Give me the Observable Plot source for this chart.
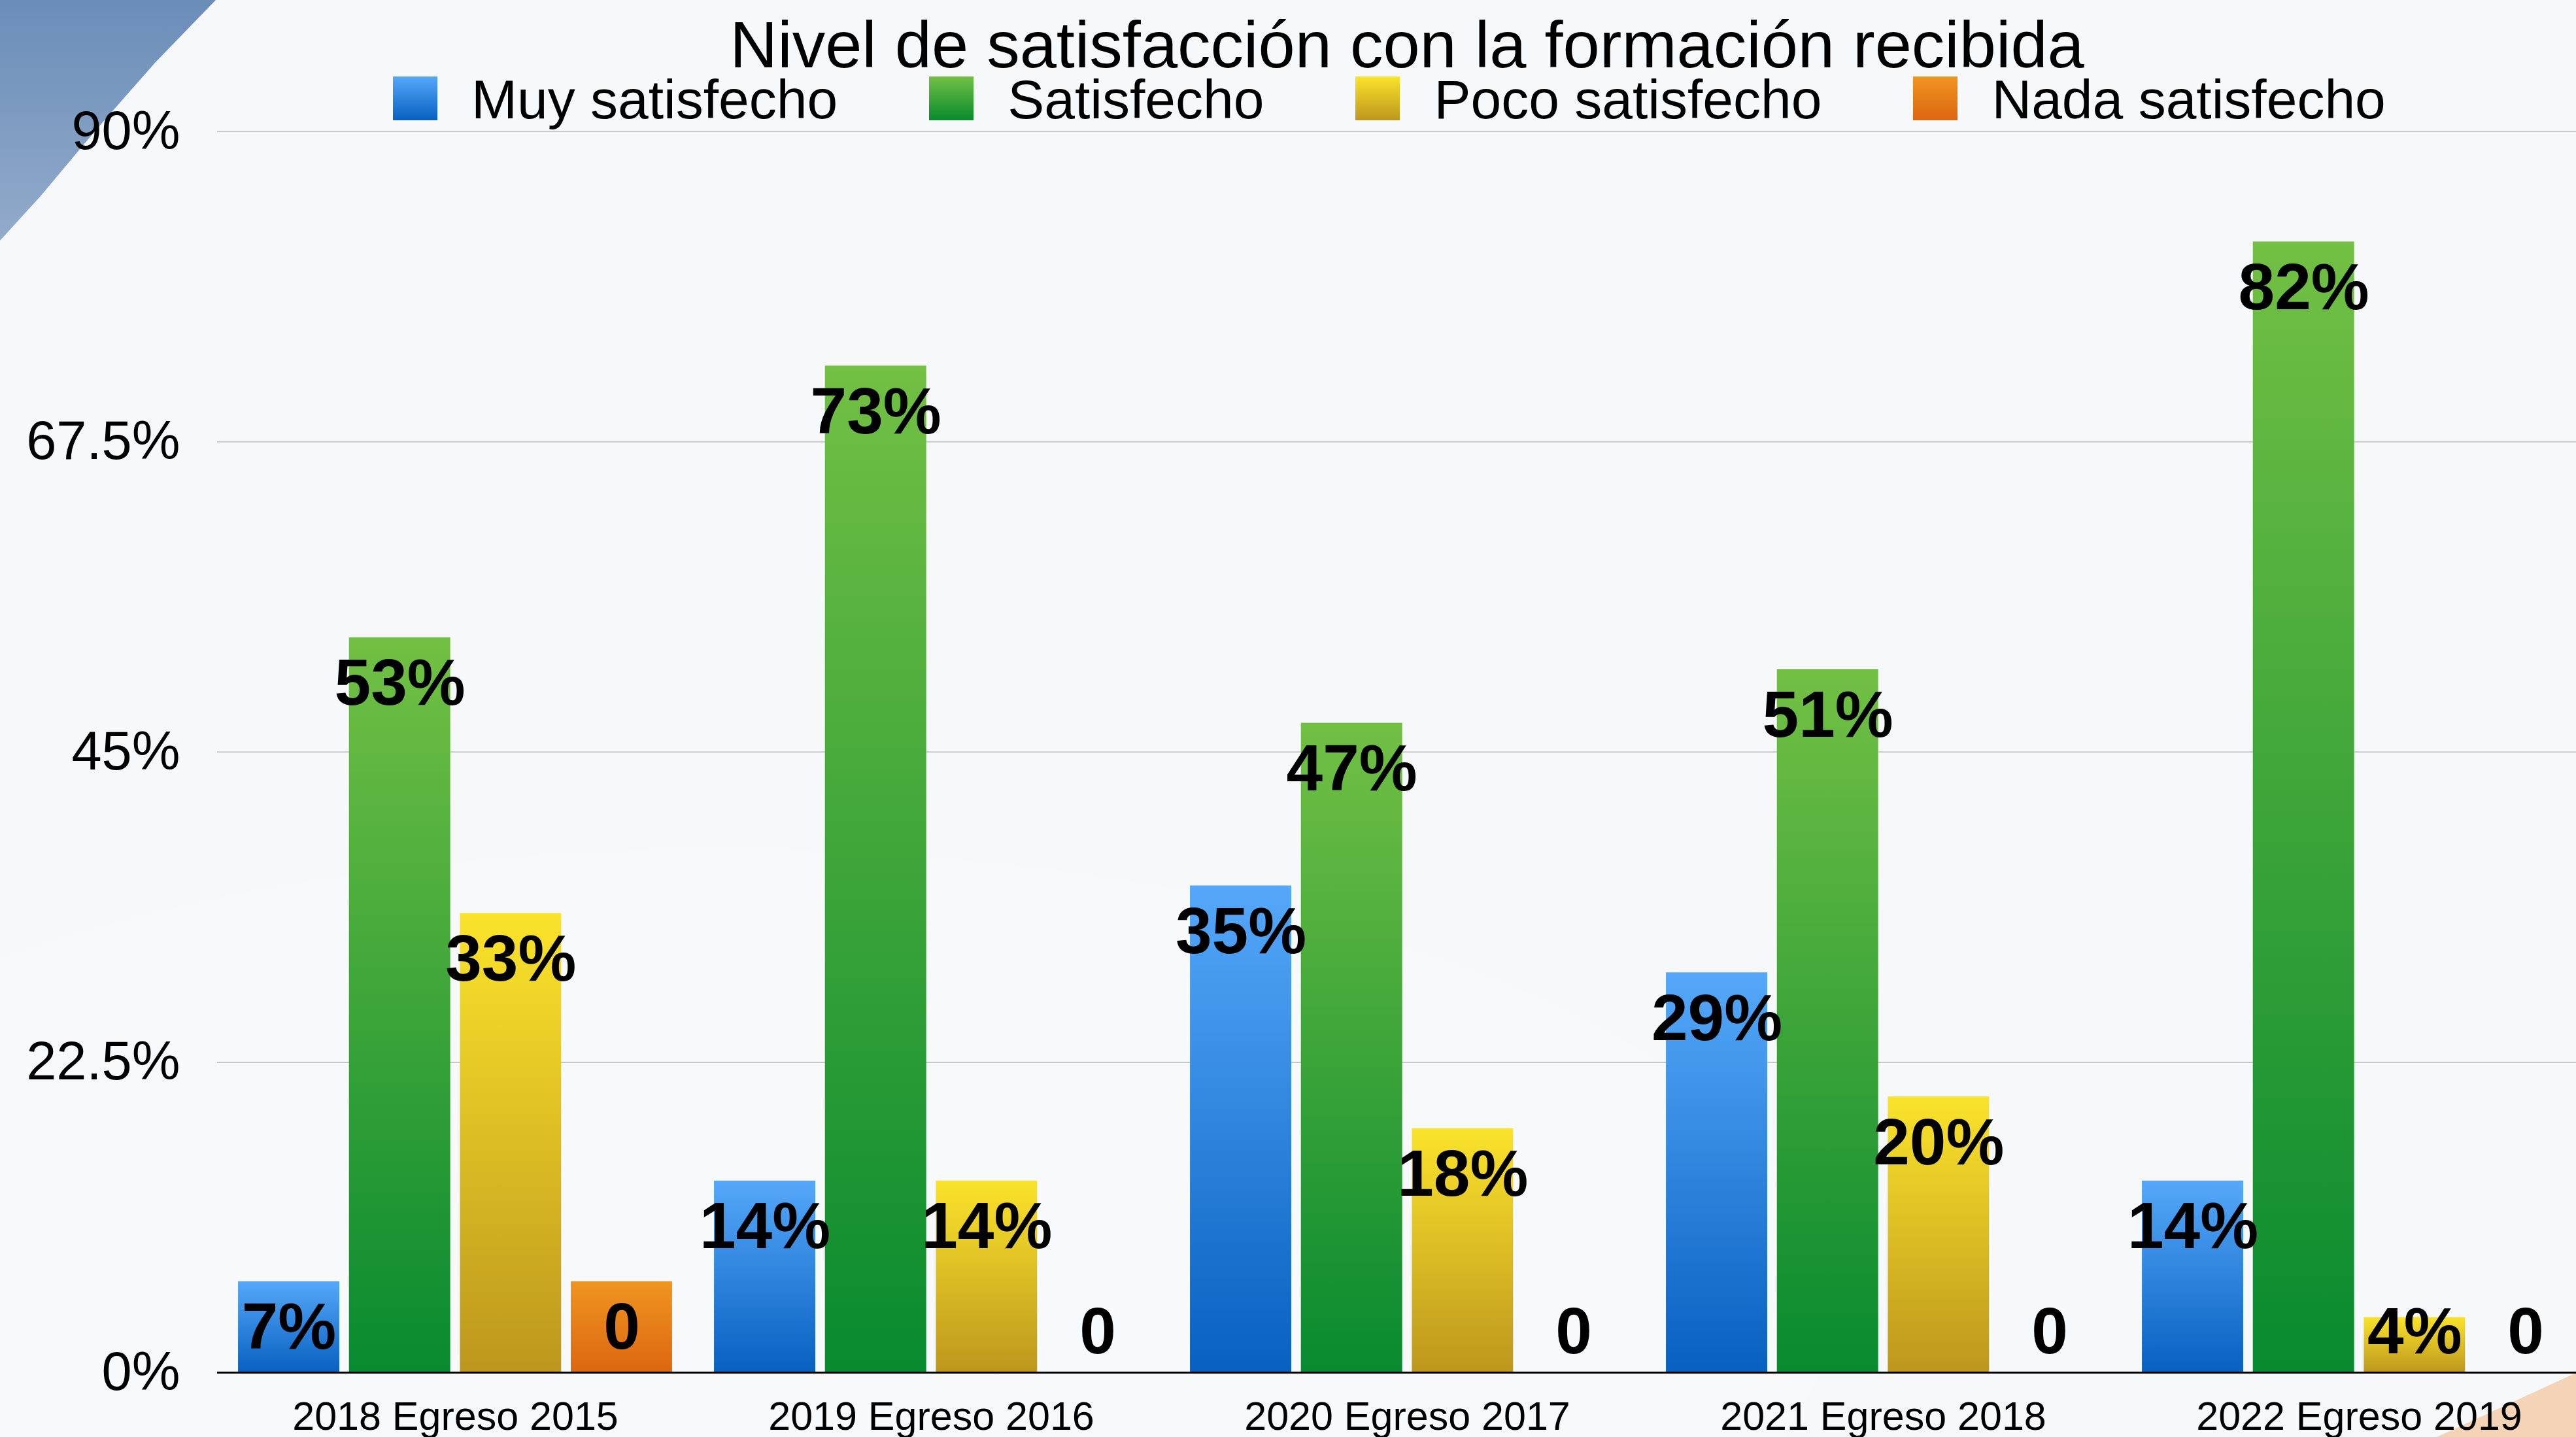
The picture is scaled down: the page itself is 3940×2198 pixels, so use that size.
<!DOCTYPE html>
<html>
<head>
<meta charset="utf-8">
<script src="https://cdn.jsdelivr.net/npm/d3@7"></script>
<script src="https://cdn.jsdelivr.net/npm/@observablehq/plot@0.6"></script>
<style>
html, body { margin: 0; padding: 0; background: #f7f8fa; overflow: hidden; }
#page { position: relative; width: 3940px; height: 2198px; overflow: hidden;
  font-family: "Liberation Sans", Arial, Helvetica, sans-serif; color: #000; }
.deco { position: absolute; z-index: 0; }
#tl { left: 0; top: 0; width: 340px; height: 370px;
  background: linear-gradient(to bottom, #6a8db8, #93abcb);
  clip-path: polygon(0 0, 330px 0, 238px 95px, 150px 195px, 62px 300px, 0 368px); }
#br { left: 3700px; top: 2090px; width: 240px; height: 108px; background: #f4d3b6;
  clip-path: polygon(27px 108px, 240px 10px, 240px 108px); }
#soft1 { left: -600px; top: 1300px; width: 3400px; height: 1400px; border-radius: 50%;
  background: rgba(255,255,255,0.18); }
#header { position: relative; height: 150px; z-index: 2; }
#title { position: absolute; left: 332px; width: 3640px; top: 28px; text-align: center;
  font-size: 101px; line-height: 80px; white-space: nowrap; }
#legend { position: absolute; left: 601px; top: 117px; display: flex; gap: 140px;
  font-size: 84px; line-height: 70px; white-space: nowrap; }
.item { display: flex; align-items: flex-start; }
.sw { width: 68px; height: 67px; margin-top: 0px; margin-right: 52px; }
#chart { position: relative; z-index: 1; }
</style>
</head>
<body>
<div id="page">
  <div class="deco" id="soft1"></div>
  <div class="deco" id="tl"></div>
  <div class="deco" id="br"></div>
  <div id="header">
    <div id="title"></div>
    <div id="legend"></div>
  </div>
  <div id="chart"></div>
</div>
<script>
// ---- data ----
const titleText = "Nivel de satisfacción con la formación recibida";
const groups = ["2018 Egreso 2015", "2019 Egreso 2016", "2020 Egreso 2017", "2021 Egreso 2018", "2022 Egreso 2019"];
const series = ["Muy satisfecho", "Satisfecho", "Poco satisfecho", "Nada satisfecho"];
const muyValues  = [6.6, 13.9, 35.3, 29.0, 13.9];
const satValues  = [53.3, 73.0, 47.1, 51.0, 82.0];
const pocoValues = [33.3, 13.9, 17.7, 20.0, 4.0];
const nadaValues = [6.6, 0, 0, 0, 0];
const muyLabels  = ["7%", "14%", "35%", "29%", "14%"];
const satLabels  = ["53%", "73%", "47%", "51%", "82%"];
const pocoLabels = ["33%", "14%", "18%", "20%", "4%"];
const nadaLabels = ["0", "0", "0", "0", "0"];
const yTicks = [0, 22.5, 45, 67.5, 90];
const yTickLabels = ["0%", "22.5%", "45%", "67.5%", "90%"];
const gradTop    = ["#55a8f9", "#72c044", "#fae32b", "#f09520"];
const gradBottom = ["#0860c0", "#088a2f", "#bd971d", "#dc6611"];

const valuesBySeries = [muyValues, satValues, pocoValues, nadaValues];
const labelsBySeries = [muyLabels, satLabels, pocoLabels, nadaLabels];
const data = groups.flatMap((g, i) => series.map((s, j) => ({
  group: g, series: s, value: valuesBySeries[j][i], label: labelsBySeries[j][i]
})));

// ---- header ----
document.getElementById("title").textContent = titleText;
const legend = d3.select("#legend");
series.forEach((s, i) => {
  const it = legend.append("div").attr("class", "item");
  it.append("div").attr("class", "sw")
    .style("background", `linear-gradient(to bottom, ${gradTop[i]}, ${gradBottom[i]})`);
  it.append("span").text(s);
});

// ---- chart ----
const font = '"Liberation Sans", Arial, Helvetica, sans-serif';
const chart = Plot.plot({
  width: 3940,
  height: 2048,
  marginLeft: 332,
  marginRight: 0,
  marginTop: 50.7,
  marginBottom: 99,
  style: { background: "transparent", overflow: "visible", fontFamily: font, color: "black" },
  fx: { domain: groups, range: [332, 3972], padding: 0, round: false, label: null },
  x: { domain: series, paddingInner: 0.087, paddingOuter: 0.189, round: false, axis: null },
  y: { domain: [0, 90] },
  color: { domain: series, range: series.map((s, i) => `url(#grad${i})`) },
  marks: [
    Plot.gridY(yTicks.slice(1), { stroke: "#c9c9cb", strokeOpacity: 1, strokeWidth: 2 }),
    Plot.axisY(yTicks, {
      tickFormat: d => yTickLabels[yTicks.indexOf(d)],
      tickSize: 0, tickPadding: 57, fontSize: 83, label: null, fill: "black"
    }),
    Plot.axisFx({ anchor: "bottom", tickSize: 0, tickPadding: 44, fontSize: 61, label: null, fill: "black" }),
    Plot.barY(data, { fx: "group", x: "series", y: "value", fill: "series" }),
    Plot.ruleY([0], { stroke: "black", strokeWidth: 3 }),
    Plot.text(data, {
      fx: "group", x: "series", y: d => Math.max(d.value, 6.26),
      text: "label", lineAnchor: "top", dy: 32,
      fontSize: 100, fontWeight: "bold", fill: "black", ariaLabel: "valores"
    })
  ]
});

const svg = d3.select(chart);
const defs = svg.insert("defs", ":first-child");
series.forEach((s, i) => {
  const g = defs.append("linearGradient").attr("id", "grad" + i)
    .attr("x1", 0).attr("y1", 0).attr("x2", 0).attr("y2", 1);
  g.append("stop").attr("offset", "0%").attr("stop-color", gradTop[i]);
  g.append("stop").attr("offset", "100%").attr("stop-color", gradBottom[i]);
});
const f = defs.append("filter").attr("id", "shadow")
  .attr("x", "-20%").attr("y", "-30%").attr("width", "140%").attr("height", "170%");
f.append("feDropShadow").attr("dx", 2).attr("dy", 3).attr("stdDeviation", 3)
  .attr("flood-color", "#000").attr("flood-opacity", 0.9);
svg.selectAll('g[aria-label="valores"]').attr("filter", "url(#shadow)");

document.getElementById("chart").appendChild(chart);
</script>
</body>
</html>
